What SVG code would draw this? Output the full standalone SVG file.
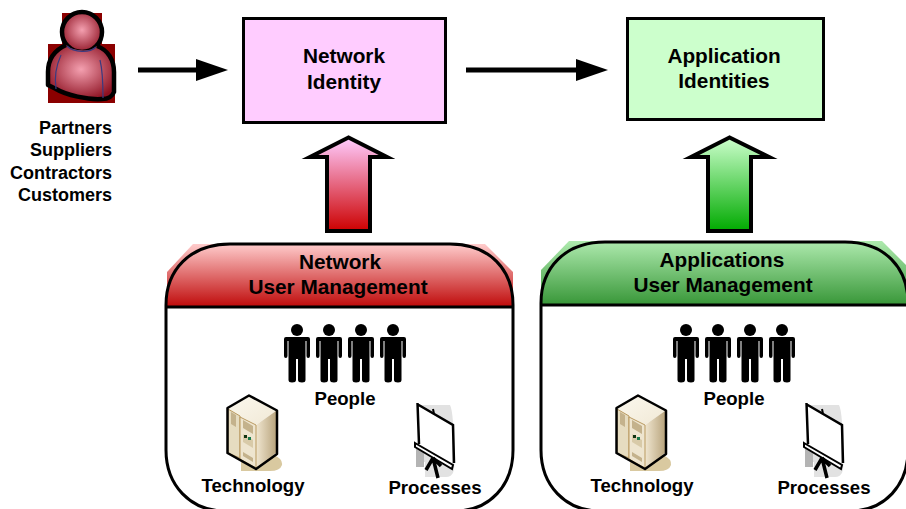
<svg xmlns="http://www.w3.org/2000/svg" xmlns:xlink="http://www.w3.org/1999/xlink" width="906" height="509" viewBox="0 0 906 509">
<style>
text{font-family:"Liberation Sans",Arial,sans-serif;font-weight:bold;fill:#000;text-anchor:middle}
.t20{font-size:20.800px}.t18{font-size:18.600px}.t16{font-size:18px;text-anchor:end}
.box{stroke:#000;stroke-width:3}
.up{stroke:#000;stroke-width:4;stroke-linejoin:miter;stroke-miterlimit:10}
.line{fill:none;stroke:#000;stroke-width:3}
.conn{stroke:#000;stroke-width:5;fill:none}
</style>
<defs>
<linearGradient id="gUpR" x1="0" y1="0" x2="0" y2="1"><stop offset="0" stop-color="#ffccff"/><stop offset="1" stop-color="#cc0000"/></linearGradient>
<linearGradient id="gUpG" x1="0" y1="0" x2="0" y2="1"><stop offset="0" stop-color="#ccffcc"/><stop offset="1" stop-color="#00aa00"/></linearGradient>
<linearGradient id="gHR" x1="0" y1="0" x2="0" y2="1"><stop offset="0" stop-color="#ffcccc"/><stop offset="1" stop-color="#bf0a0a"/></linearGradient>
<linearGradient id="gHG" x1="0" y1="0" x2="0" y2="1"><stop offset="0" stop-color="#aeeaae"/><stop offset="1" stop-color="#3a983a"/></linearGradient>
<radialGradient id="gP" cx="0.5" cy="0.45" r="0.6"><stop offset="0" stop-color="#f4a0b0"/><stop offset="1" stop-color="#8c1020"/></radialGradient>
<linearGradient id="gSrvTop" x1="0" y1="0" x2="1" y2="1"><stop offset="0" stop-color="#fbf8ee"/><stop offset="1" stop-color="#f1e9d6"/></linearGradient>
<linearGradient id="gSrvR" x1="0" y1="0" x2="1" y2="0"><stop offset="0" stop-color="#f0e6d0"/><stop offset="1" stop-color="#b9a57e"/></linearGradient>
<marker id="arrow" markerUnits="userSpaceOnUse" markerWidth="32" markerHeight="22" refX="10" refY="11" orient="auto"><path d="M0 0L32 11L0 22Z" fill="#000"/></marker>
<g id="man">
<circle cx="0" cy="6" r="6" fill="#000"/>
<path d="M-11 13Q-13 13-13 15V32Q-13 34-11.200 34Q-9.500 34-9.500 32V17H-8.500V56Q-8.500 58.500-5 58.500Q-1 58.500-1 56V35H1V56Q1 58.500 5 58.500Q8.500 58.500 8.500 56V17H9.500V32Q9.500 34 11.200 34Q13 34 13 32V15Q13 13 11 13Z" fill="#000"/>
</g>
<g id="people">
<use xlink:href="#man" href="#man" x="0"/><use xlink:href="#man" href="#man" x="32"/><use xlink:href="#man" href="#man" x="64"/><use xlink:href="#man" href="#man" x="96"/>
</g>
<g id="server">
<path d="M241 455H274Q283 459 282 465Q280 471 270 471H241Z" fill="#d9c9a0"/>
<path d="M228 409L249 396L276 411L256 425L240 417V416Z" fill="url(#gSrvTop)"/>
<path d="M256 425L276 411V453L256 468Z" fill="url(#gSrvR)"/>
<path d="M228 409L240 416V458L228 453Z" fill="#e6dcc0" stroke="#b9995f" stroke-width="1"/>
<path d="M240 417L256 425V468L240 459Z" fill="#eee5cf" stroke="#b9995f" stroke-width="1"/>
<path d="M231 412L236 415V427L231 424ZM243 420L253 426V434L243 428ZM243 452L253 458V462L243 456Z" fill="#c4b28c"/>
<path d="M243 434L253 440V448L243 442Z" fill="#d8caa8"/>
<rect x="244" y="435" width="3" height="3" fill="#113311"/><rect x="248" y="437" width="3" height="3" fill="#1a7a4a"/>
<path d="M227.500 408L249 395.500L277 410.500V454L256 469L227.500 453Z" fill="none" stroke="#000" stroke-width="2.500" stroke-linejoin="round"/>
</g>
<g id="screen">
<path d="M420 405H450Q454 412 454 460Q456 477 446 477H425V462H420Z" fill="#e2e2e2"/>
<path d="M416 444L424 449V467H416Z" fill="#b4b4b4"/>
<path d="M419 406L452 426V464L417 444Z" fill="#fff"/>
<path d="M417.500 403L419 444M417 404L453 425L454 463" fill="none" stroke="#000" stroke-width="2.500"/>
<path d="M415 443L453 465L452 469L415 447Z" fill="#fff" stroke="#000" stroke-width="2"/>
<path d="M433 458L426 470M433 458L438 478M433 458L441 466" fill="none" stroke="#000" stroke-width="3.500"/>
<path d="M433 409L434 414" fill="none" stroke="#000" stroke-width="2"/>
</g>
</defs>

<g id="connectors">
<path class="conn" d="M138 70H206" marker-end="url(#arrow)"/>
<path class="conn" d="M466 70H586" marker-end="url(#arrow)"/>
</g>

<g id="partners">
<rect x="62" y="13" width="40" height="35" fill="#8b0000"/>
<rect x="48" y="44" width="67" height="59" fill="#8b0000"/>
<circle cx="82" cy="32" r="20" fill="url(#gP)" stroke="#000" stroke-width="4.500"/>
<path d="M66 45C72 51 90 53 97 46C108 50 114 60 114 72V92C112 97 108 99 102 99C88 100 66 95 56 89L48 85V72C48 59 55 50 66 45Z" fill="url(#gP)"/>
<path d="M66 45C55 50 48 59 48 72V85L56 89C66 95 88 100 102 99C108 99 112 97 114 92V72C114 60 108 50 97 46" fill="none" stroke="#000" stroke-width="4.500" stroke-linejoin="round"/>
<path d="M67 46C74 53 90 53 96 47M61 55C56 66 54 76 56 89M100 60C103 72 103 85 103 98" fill="none" stroke="#3a3a80" stroke-width="1.200"/>
<text class="t16" x="112" y="134">Partners</text>
<text class="t16" x="112" y="156">Suppliers</text>
<text class="t16" x="112" y="179">Contractors</text>
<text class="t16" x="112" y="201">Customers</text>
</g>

<g id="network-identity">
<rect class="box" x="243.500" y="18.500" width="202" height="104" fill="#ffccff"/>
<text class="t20" x="344" y="63">Network</text>
<text class="t20" x="344" y="89">Identity</text>
</g>

<g id="application-identities">
<rect class="box" x="627.500" y="18.500" width="196" height="101" fill="#ccffcc"/>
<text class="t20" x="724" y="63">Application</text>
<text class="t20" x="724" y="88">Identities</text>
</g>

<g id="arrow-network">
<path class="up" d="M348.500 137.500L310 157H327V231H370V157H387Z" fill="url(#gUpR)"/>
</g>
<g id="arrow-applications">
<path class="up" d="M729.500 137.500L691 157H708V231H751V157H769Z" fill="url(#gUpG)"/>
</g>

<g id="network-user-management">
<path d="M193 244H485L513 272V307H167V272Z" fill="url(#gHR)"/>
<path class="line" d="M166 307H513"/>
<path d="M166 307V305C166 270 190 244 230 244H450C490 244 513 270 513 305V450C513 485 490 511 455 511H225C190 511 166 485 166 450Z" fill="none" stroke="#000" stroke-width="3"/>
<text class="t20" x="340" y="269">Network</text>
<text class="t20" x="338" y="294">User Management</text>
<use xlink:href="#people" href="#people" x="297" y="324"/>
<text class="t18" x="345" y="405">People</text>
<use xlink:href="#server" href="#server"/>
<text class="t18" x="253" y="492">Technology</text>
<use xlink:href="#screen" href="#screen"/>
<text class="t18" x="435" y="494">Processes</text>
</g>

<g id="applications-user-management">
<path d="M569 241H882L906 265V304H541V270Z" fill="url(#gHG)"/>
<path class="line" d="M540 305H906"/>
<path d="M541 309V303C541 268 565 242 605 242H845C885 242 908 268 908 303V450C908 485 885 511 850 511H600C565 511 541 485 541 450Z" fill="none" stroke="#000" stroke-width="3"/>
<text class="t20" x="722" y="267">Applications</text>
<text class="t20" x="723" y="292">User Management</text>
<use xlink:href="#people" href="#people" x="686" y="324"/>
<text class="t18" x="734" y="405">People</text>
<use xlink:href="#server" href="#server" x="389"/>
<text class="t18" x="642" y="492">Technology</text>
<use xlink:href="#screen" href="#screen" x="389"/>
<text class="t18" x="824" y="494">Processes</text>
</g>
</svg>
